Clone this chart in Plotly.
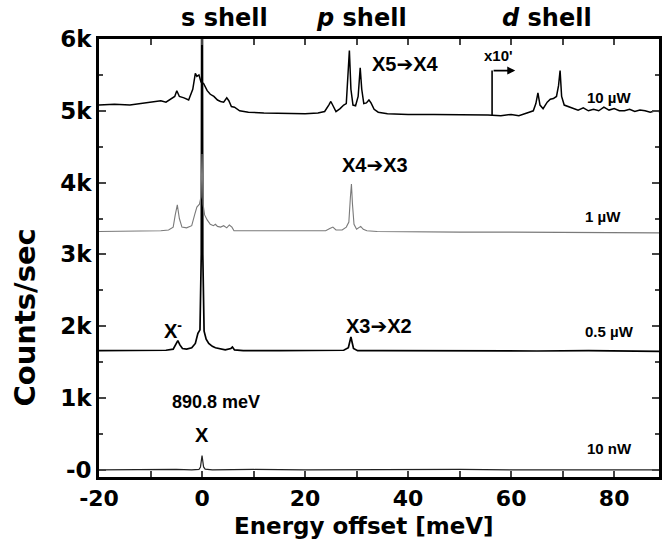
import plotly.graph_objects as go

# ---- data ----
x_10uW = [-20, -17, -14, -11, -9, -8, -7, -6, -5.3, -4.9, -4.4, -3.5, -2.6, -1.8, -1.3, -1.0, -0.6, -0.2,
          0.3, 1.0, 1.6, 2.3, 3.0, 3.6, 4.2, 4.8, 5.2, 5.7, 6.3, 7.3, 9, 12, 16, 20, 22.5, 23.8, 24.6, 25.0,
          25.5, 26.0, 26.8, 27.5, 28.0, 28.3, 28.6, 28.9, 29.3, 29.8, 30.3, 30.7, 31.0, 31.4, 31.9, 32.4,
          32.8, 33.4, 34.2, 36, 40, 45, 50, 55.5, 58, 60, 61.5, 62.5, 63.5, 64.3, 64.8, 65.2, 65.6, 66.2,
          67.0, 67.6, 68.2, 68.8, 69.2, 69.5, 69.8, 70.3, 71, 72, 73, 74, 75, 76, 77, 78, 79, 80, 81, 82,
          83, 84, 85, 86, 87, 88, 88.7]
y_10uW = [5080, 5090, 5080, 5110, 5120, 5140, 5120, 5170, 5200, 5280, 5200, 5180, 5150, 5300, 5520, 5480,
          5500, 5400, 5380, 5280, 5230, 5200, 5150, 5130, 5120, 5180, 5140, 5060, 5050, 5000, 4980, 4970,
          4960, 4960, 4970, 4990, 5080, 5130, 5060, 4990, 5030, 5080, 5100, 5400, 5840, 5300, 5080, 5070,
          5200, 5600, 5300, 5100, 5110, 5150, 5110, 5020, 4980, 4960, 4950, 4950, 4950, 4940, 4930, 4950,
          4930, 4960, 4980, 5000, 5100, 5250, 5080, 5030, 5120, 5160, 5170, 5200, 5350, 5560, 5200, 5080,
          5060, 5030, 5010, 5040, 5000, 5020, 5000, 5050, 5010, 5030, 5000, 5000, 5020, 4990, 5010, 5000,
          4980, 5000, 4990]

x_1uW = [-20, -15, -10, -8, -6.5, -5.6, -5.2, -4.8, -4.4, -3.9, -3, -2, -1.4, -1.0, -0.5, -0.2, 0, 0.2,
         0.5, 1.0, 1.6, 2.2, 2.6, 3.0, 3.6, 4.2, 4.8, 5.3, 5.8, 6.2, 6.8, 8, 12, 18, 22, 24, 24.8, 25.4,
         26, 27.2, 28, 28.5, 28.8, 29.0, 29.2, 29.5, 30, 30.4, 30.8, 31.3, 32, 34, 40, 50, 60, 70, 80, 88.7]
y_1uW = [3320, 3320, 3325, 3330, 3340, 3380, 3550, 3690, 3500, 3380, 3370, 3400, 3560, 3660, 3700, 3800,
         4400, 3700, 3550, 3480, 3420, 3400, 3420, 3390, 3380, 3400, 3370, 3410, 3380, 3330, 3330, 3330,
         3320, 3320, 3320, 3330, 3360, 3380, 3340, 3340, 3380, 3450, 3800, 3980, 3700, 3420, 3350, 3370,
         3390, 3350, 3330, 3320, 3315, 3310, 3310, 3310, 3305, 3300]

x_05uW = [-20, -15, -10, -7, -5.6, -5.1, -4.7, -4.3, -3.8, -3, -2, -1.3, -0.8, -0.4, -0.15, 0, 0.15, 0.4,
          0.8, 1.3, 2, 2.6, 3.2, 4.5, 5.6, 5.9, 6.3, 8, 15, 25, 27.5, 28.4, 28.9, 29.4, 30.2, 35, 45, 55,
          65, 75, 85, 88.7]
y_05uW = [1660, 1660, 1660, 1665, 1680, 1760, 1800, 1740, 1690, 1680, 1700, 1760, 1900, 1950, 3000, 9000,
          3000, 1930, 1820, 1760, 1720, 1700, 1690, 1670, 1690, 1710, 1670, 1660, 1660, 1660, 1665, 1700,
          1850, 1690, 1660, 1660, 1655, 1660, 1655, 1660, 1655, 1650]

x_10nW = [-20, -15, -10, -5, -2, -0.6, -0.3, 0, 0.3, 0.6, 2, 10, 20, 30, 40, 50, 60, 70, 80, 88.7]
y_10nW = [0, 5, 0, 5, 0, 5, 40, 200, 40, 10, 0, 5, 0, 5, 0, 5, 0, 5, 0, 0]

y_tickvals = [0, 1000, 2000, 3000, 4000, 5000, 6000]
y_ticktext = ["-0", "1k", "2k", "3k", "4k", "5k", "6k"]
x_tickvals = [-20, 0, 20, 40, 60, 80]
x_ticktext = ["-20", "0", "20", "40", "60", "80"]

FONT = "Liberation Sans, Arial, sans-serif"
WIDE = "DejaVu Sans, Liberation Sans, sans-serif"
ARROW = "<span style='font-family:DejaVu Sans'>\u2794</span>"

fig = go.Figure()
fig.add_trace(go.Scatter(x=x_10nW, y=y_10nW, mode="lines", line=dict(color="#222", width=1.2)))
fig.add_trace(go.Scatter(x=x_05uW, y=y_05uW, mode="lines", line=dict(color="black", width=1.7)))
fig.add_trace(go.Scatter(x=x_1uW, y=y_1uW, mode="lines", line=dict(color="#7a7a7a", width=1.1)))
fig.add_trace(go.Scatter(x=x_10uW, y=y_10uW, mode="lines", line=dict(color="black", width=1.5)))

def ann(x, y, text, size, **kw):
    fig.add_annotation(x=x, y=y, xref="x", yref="y", text=text, showarrow=False,
                       font=dict(family=FONT, size=size, color="black", weight="bold"), **kw)

# shell headers (above the frame)
for xx, t in [(4.4, "s shell"), (31, "<i>p</i> shell"), (67, "<i>d</i> shell")]:
    fig.add_annotation(x=xx, y=1.0, xref="x", yref="paper", yanchor="bottom", yshift=5, text=t,
                       showarrow=False, font=dict(family=WIDE, size=24, color="black", weight="bold"))

ann(39.5, 5650, "X5" + ARROW + "X4", 20)
ann(33.6, 4250, "X4" + ARROW + "X3", 20)
ann(34.4, 2000, "X3" + ARROW + "X2", 20)
ann(-5.6, 1960, "X<sup>-</sup>", 20)
ann(2.8, 950, "890.8 meV", 18)
ann(0, 490, "X", 20)
ann(79, 5190, "10 \u00b5W", 15)
ann(77.8, 3530, "1 \u00b5W", 15)
ann(79, 1930, "0.5 \u00b5W", 15)
ann(79, 300, "10 nW", 15)
ann(57.6, 5770, "x10'", 15)

# x10 marker: vertical line and arrow
fig.add_shape(type="line", x0=56.3, x1=56.3, y0=4940, y1=5560, xref="x", yref="y",
              line=dict(color="black", width=1.6))
fig.add_annotation(x=60.8, y=5560, ax=56.3, ay=5560, xref="x", yref="y", axref="x", ayref="y",
                   text="", showarrow=True, arrowhead=2, arrowsize=1, arrowwidth=1.6, arrowcolor="black")

# axis titles
fig.add_annotation(x=-0.133, y=0.363, xref="paper", yref="paper", xanchor="center", yanchor="middle",
                   text="Counts/sec", textangle=-90, showarrow=False,
                   font=dict(family=WIDE, size=29, color="black", weight="bold"))
fig.add_annotation(x=0.474, y=-0.112, xref="paper", yref="paper", xanchor="center", yanchor="middle",
                   text="Energy offset [meV]", showarrow=False,
                   font=dict(family=WIDE, size=23, color="black", weight="bold"))

fig.update_layout(
    width=662, height=546, autosize=False,
    margin=dict(l=99, r=0, t=39, b=69),
    paper_bgcolor="white", plot_bgcolor="white",
    showlegend=False,
    font=dict(family=FONT, color="black"),
)
fig.update_xaxes(
    range=[-20, 88.7], tickvals=x_tickvals, ticktext=x_ticktext, ticks="inside", ticklen=6, tickwidth=2,
    minor=dict(dtick=10, ticks="inside", ticklen=6, tickwidth=1.5, tick0=0),
    showline=True, linecolor="black", linewidth=2.5, mirror="ticks", showgrid=False, zeroline=False,
    tickfont=dict(family=WIDE, size=22, color="black", weight="bold"),
)
fig.update_yaxes(
    range=[-100, 6000], tickvals=y_tickvals, ticktext=y_ticktext, ticks="inside", ticklen=7, tickwidth=2,
    minor=dict(dtick=500, ticks="inside", ticklen=4, tickwidth=1.5, tick0=0),
    showline=True, linecolor="black", linewidth=2.5, mirror="ticks", showgrid=False, zeroline=False,
    tickfont=dict(family=WIDE, size=23, color="black", weight="bold"),
)

fig.write_html("out.html")
